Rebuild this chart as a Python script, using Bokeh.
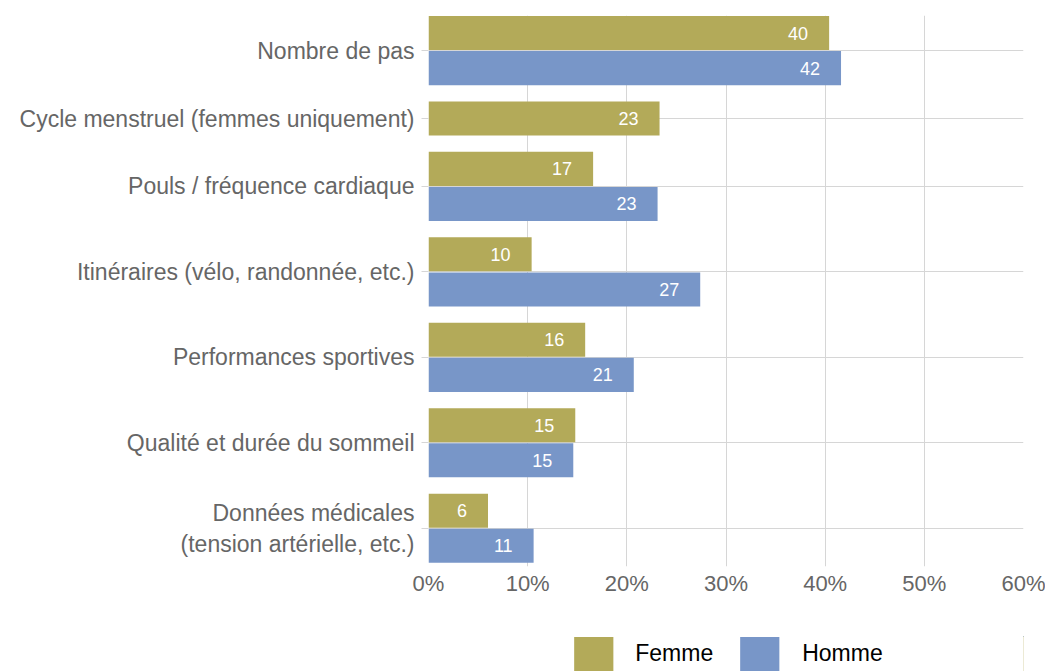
from bokeh.plotting import figure
from bokeh.layouts import column
from bokeh.models import Range1d, FixedTicker, ColumnDataSource, Legend, LegendItem, PrintfTickFormatter
from bokeh.core.properties import value
from bokeh.embed import file_html
from bokeh.resources import INLINE

# ---- data ----
categories = [
    "Nombre de pas",
    "Cycle menstruel (femmes uniquement)",
    "Pouls / fréquence cardiaque",
    "Itinéraires (vélo, randonnée, etc.)",
    "Performances sportives",
    "Qualité et durée du sommeil",
    "Données médicales\n(tension artérielle, etc.)",
]
femme = [40.4, 23.3, 16.6, 10.4, 15.8, 14.8, 6.0]
homme = [41.6, None, 23.1, 27.4, 20.7, 14.6, 10.6]
series_names = ["Femme", "Homme"]
x_ticks = [0, 10, 20, 30, 40, 50, 60]

# ---- style ----
FEMME_COLOR = "#b3aa59"
HOMME_COLOR = "#7896c8"
GRID = "#d6d6d6"
FONT = "Liberation Sans"
GAP = 0.435
BAR_H = 0.97

# ---- layout of groups ----
pos = 0.0
centers = []
f_y, h_y, h_val = [], [], []
for i, cat in enumerate(categories):
    n = 1 + (homme[i] is not None)
    f_y.append(pos + 0.5)
    if homme[i] is not None:
        h_y.append(pos + 1.5)
        h_val.append(homme[i])
    centers.append(round(pos + n / 2.0, 4))
    pos += n + GAP
total = pos - GAP

p = figure(width=1045, height=600, output_backend="svg", toolbar_location=None,
           x_range=Range1d(0, 60), y_range=Range1d(start=total + 0.09, end=0),
           min_border_left=428, min_border_right=22, min_border_top=15, min_border_bottom=34)
p.outline_line_color = None

fsrc = ColumnDataSource(dict(y=f_y, x=femme, label=[f"{v:.0f}" for v in femme]))
hsrc = ColumnDataSource(dict(y=h_y, x=h_val, label=[f"{v:.0f}" for v in h_val]))

rf = p.hbar(y="y", right="x", left=0, height=BAR_H, source=fsrc, fill_color=FEMME_COLOR, line_color=None)
rh = p.hbar(y="y", right="x", left=0, height=BAR_H, source=hsrc, fill_color=HOMME_COLOR, line_color=None)

for src in (fsrc, hsrc):
    p.text(x="x", y="y", text="label", source=src, x_offset=-21, text_align="right",
           text_baseline="middle", text_color="white", text_font_size="18px",
           text_font=value(FONT))

# axes
p.xaxis.ticker = FixedTicker(ticks=x_ticks)
p.xaxis.formatter = PrintfTickFormatter(format="%d%%")
p.xaxis.axis_line_color = None
p.xaxis.major_tick_line_color = None
p.xaxis.minor_tick_line_color = None
p.xaxis.major_label_standoff = -2
p.xaxis.major_label_text_font_size = "22px"
p.xaxis.major_label_text_color = "#666666"
p.xaxis.major_label_text_font = FONT

p.yaxis.ticker = FixedTicker(ticks=centers)
p.yaxis.major_label_overrides = {c: name for c, name in zip(centers, categories)}
p.yaxis.axis_line_color = None
p.yaxis.major_tick_line_color = GRID
p.yaxis.major_tick_out = 7
p.yaxis.major_tick_in = 0
p.yaxis.minor_tick_line_color = None
p.yaxis.major_label_standoff = 7
p.yaxis.major_label_text_font_size = "23px"
p.yaxis.major_label_text_color = "#666666"
p.yaxis.major_label_text_font = FONT

p.xgrid.ticker = FixedTicker(ticks=x_ticks)
p.xgrid.grid_line_color = GRID
p.ygrid.ticker = FixedTicker(ticks=centers)
p.ygrid.grid_line_color = GRID

# ---- legend strip below the chart (series renderers kept out of its view) ----
lg = figure(width=1045, height=71, output_backend="svg", toolbar_location=None,
            x_range=Range1d(-2, -1), y_range=Range1d(0, 1),
            x_axis_location=None, y_axis_location=None,
            min_border_left=428, min_border_right=22, min_border_top=36, min_border_bottom=0)
lg.outline_line_color = None
lg.grid.visible = False
lf = lg.hbar(y="y", right="x", left=0, height=BAR_H, source=fsrc, fill_color=FEMME_COLOR, line_color=None)
lh = lg.hbar(y="y", right="x", left=0, height=BAR_H, source=hsrc, fill_color=HOMME_COLOR, line_color=None)

legend = Legend(items=[LegendItem(label=series_names[0], renderers=[lf]),
                       LegendItem(label=series_names[1], renderers=[lh])],
                orientation="horizontal", location="center",
                glyph_width=49, glyph_height=44, label_standoff=18, spacing=22,
                padding=0, margin=0, border_line_color=None, background_fill_alpha=0,
                label_text_font_size="23px", label_text_color="black",
                label_text_font=FONT, label_height=44)
lg.add_layout(legend)

open("out.html", "w").write(file_html(column(p, lg), INLINE))
